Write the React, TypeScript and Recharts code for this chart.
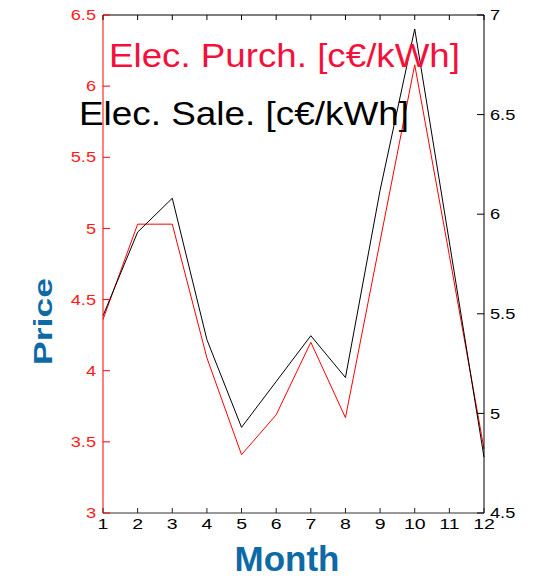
import { LineChart, Line, XAxis, YAxis } from 'recharts';

const months = [1, 2, 3, 4, 5, 6, 7, 8, 9, 10, 11, 12];
const purchPrice = [4.36, 5.03, 5.03, 4.09, 3.41, 3.69, 4.2, 3.67, 4.91, 6.15, 4.81, 3.45];
const salePrice = [5.49, 5.91, 6.08, 5.37, 4.93, 5.16, 5.39, 5.18, 6.12, 6.93, 5.86, 4.78];
const leftTicks = [3, 3.5, 4, 4.5, 5, 5.5, 6, 6.5];
const rightTicks = [4.5, 5, 5.5, 6, 6.5, 7];

const W = 537;
const H = 578;
const PLOT_L = 103;
const PLOT_R = 484;
const PLOT_T = 15;
const PLOT_B = 513;
const FONT = '"Liberation Sans", Arial, sans-serif';
const BLUE = '#0e6aa6';

const data = months.map((m, i) => ({ month: m, purch: purchPrice[i], sale: salePrice[i] }));

function LeftTick({ y, payload }: any) {
  return (
    <g>
      <line x1={PLOT_L} x2={PLOT_L + 7} y1={y} y2={y} stroke="#ff0000" />
      <text
        transform={`translate(${PLOT_L - 7},${y}) scale(1.3,1)`}
        textAnchor="end"
        dominantBaseline="central"
        fill="#ff1a1a"
        fontSize={14}
        fontFamily={FONT}
      >
        {payload.value}
      </text>
    </g>
  );
}

function RightTick({ y, payload }: any) {
  return (
    <g>
      <line x1={PLOT_R - 7} x2={PLOT_R} y1={y} y2={y} stroke="#000" />
      <text
        transform={`translate(${PLOT_R + 6},${y}) scale(1.3,1)`}
        textAnchor="start"
        dominantBaseline="central"
        fill="#000"
        fontSize={14}
        fontFamily={FONT}
      >
        {payload.value}
      </text>
    </g>
  );
}

function BottomTick({ x, payload }: any) {
  return (
    <g>
      <line x1={x} x2={x} y1={PLOT_B} y2={PLOT_B - 5} stroke="#222" />
      <text
        transform={`translate(${x},529) scale(1.3,1)`}
        textAnchor="middle"
        fill="#000"
        fontSize={15}
        fontFamily={FONT}
      >
        {payload.value}
      </text>
    </g>
  );
}

function TopTick({ x }: any) {
  return <line x1={x} x2={x} y1={PLOT_T} y2={PLOT_T + 5} stroke="#000" />;
}

export default function App() {
  return (
    <div style={{ position: 'absolute', left: 0, top: 0, width: W, height: H, background: '#fff' }}>
      <LineChart width={W} height={H} data={data} margin={{ top: 0, right: 0, bottom: 0, left: 0 }}>
        <XAxis
          xAxisId="top"
          orientation="top"
          dataKey="month"
          type="number"
          domain={[1, 12]}
          ticks={months}
          height={PLOT_T}
          tickSize={0}
          axisLine={{ stroke: '#000' }}
          tick={<TopTick />}
        />
        <XAxis
          xAxisId="b"
          dataKey="month"
          type="number"
          domain={[1, 12]}
          ticks={months}
          height={H - PLOT_B}
          tickSize={0}
          axisLine={{ stroke: '#333' }}
          tick={<BottomTick />}
        />
        <YAxis
          yAxisId="left"
          type="number"
          domain={[3, 6.5]}
          ticks={leftTicks}
          width={PLOT_L}
          tickSize={0}
          axisLine={{ stroke: '#ff0000' }}
          tick={<LeftTick />}
        />
        <YAxis
          yAxisId="right"
          orientation="right"
          type="number"
          domain={[4.5, 7]}
          ticks={rightTicks}
          width={W - PLOT_R}
          tickSize={0}
          axisLine={{ stroke: '#000' }}
          tick={<RightTick />}
        />
        <Line
          xAxisId="b"
          yAxisId="left"
          type="linear"
          dataKey="purch"
          stroke="#ff0000"
          strokeWidth={1}
          dot={false}
          isAnimationActive={false}
        />
        <Line
          xAxisId="b"
          yAxisId="right"
          type="linear"
          dataKey="sale"
          stroke="#000"
          strokeWidth={1}
          dot={false}
          isAnimationActive={false}
        />
      </LineChart>
      <svg width={W} height={H} style={{ position: 'absolute', left: 0, top: 0, pointerEvents: 'none' }}>
        <text x={109} y={67} fontSize={33} fontFamily={FONT} fill="#f5103c" textLength={351} lengthAdjust="spacingAndGlyphs">
          Elec. Purch. [c€/kWh]
        </text>
        <text x={79} y={125} fontSize={33} fontFamily={FONT} fill="#000" textLength={330} lengthAdjust="spacingAndGlyphs">
          Elec. Sale. [c€/kWh]
        </text>
        <text
          transform="translate(52,321.5) rotate(-90)"
          textAnchor="middle"
          fontSize={26}
          fontWeight="bold"
          fontFamily={FONT}
          fill={BLUE}
          textLength={87}
          lengthAdjust="spacingAndGlyphs"
        >
          Price
        </text>
        <text x={287} y={571} textAnchor="middle" fontSize={35} fontWeight="bold" fontFamily={FONT} fill={BLUE}>
          Month
        </text>
      </svg>
    </div>
  );
}
